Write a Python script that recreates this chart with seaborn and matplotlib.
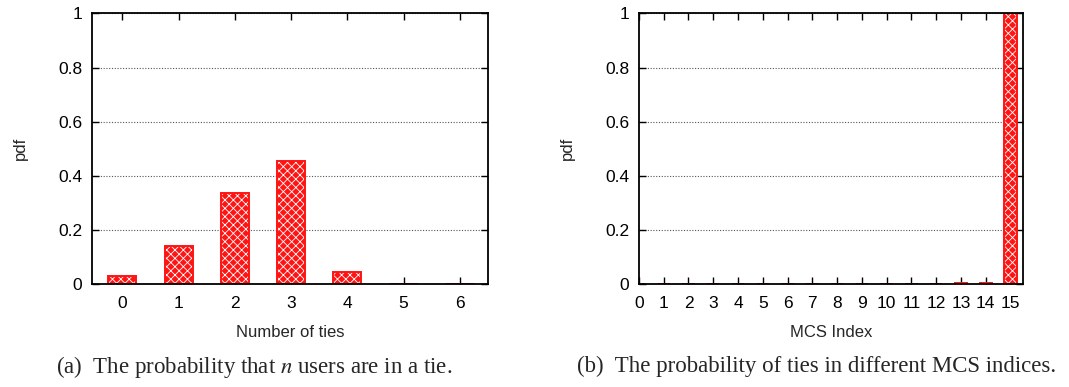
import matplotlib
matplotlib.use("Agg")
import matplotlib.pyplot as plt
import seaborn as sns
import pandas as pd
from matplotlib.patches import Rectangle
from matplotlib.ticker import FormatStrFormatter

# Probability that n users are in a tie
tie_counts = [0, 1, 2, 3, 4, 5, 6]
tie_pdf = [0.031, 0.139, 0.337, 0.456, 0.043, 0.0, 0.0]

# Probability of ties per MCS index
mcs_index = [0, 1, 2, 3, 4, 5, 6, 7, 8, 9, 10, 11, 12, 13, 14, 15]
mcs_pdf = [0.0, 0.0, 0.0, 0.0, 0.0, 0.0, 0.0, 0.0, 0.0, 0.0, 0.0, 0.0, 0.0,
           0.003, 0.003, 1.0]

y_ticks = [0, 0.2, 0.4, 0.6, 0.8, 1.0]

sns.set_theme(style="white")
plt.rcParams["font.family"] = ["Liberation Sans", "DejaVu Sans"]
plt.rcParams["mathtext.fontset"] = "stix"
plt.rcParams["hatch.linewidth"] = 0.6

RED = "#ff1414"

fig = plt.figure(figsize=(10.69, 3.87), dpi=100)
ax_a = fig.add_axes([0.0861, 0.2662, 0.3704, 0.699])
ax_b = fig.add_axes([0.5977, 0.2662, 0.3592, 0.699])


def draw_panel(ax, cats, vals, xlabel, xlim):
    df = pd.DataFrame({"x": cats, "pdf": vals})
    sns.barplot(data=df, x="x", y="pdf", ax=ax, color=RED, saturation=1,
                width=0.5, edgecolor="white", linewidth=0, hatch="xxxx",
                order=cats, zorder=2)
    # solid red outline around each hatched bar
    for p in list(ax.patches):
        ax.add_patch(Rectangle((p.get_x(), p.get_y()), p.get_width(),
                               p.get_height(), fill=False, edgecolor=RED,
                               linewidth=1.4, zorder=3))
    ax.set_xlim(*xlim)
    ax.set_ylim(0, 1)
    ax.set_yticks(y_ticks)
    ax.yaxis.set_major_formatter(FormatStrFormatter("%g"))
    ax.set_xticks(range(len(cats)))
    ax.set_xticklabels([str(c) for c in cats])
    ax.grid(False)
    ax.yaxis.grid(True, linestyle=(0, (1, 1.5)), color="#555555", linewidth=0.8)
    ax.set_axisbelow(True)
    for s in ax.spines.values():
        s.set_visible(True)
        s.set_color("black")
        s.set_linewidth(1.3)
        s.set_zorder(5)
    ax.tick_params(axis="both", direction="in", length=5, width=1,
                   top=True, right=True, bottom=True, left=True,
                   labelsize=12.5, colors="black")
    ax.tick_params(axis="x", pad=9)
    ax.tick_params(axis="y", pad=7)
    ax.set_xlabel(xlabel, fontsize=12, labelpad=10)
    ax.set_ylabel("pdf", fontsize=12, labelpad=22)


draw_panel(ax_a, tie_counts, tie_pdf, "Number of ties", (-0.54, 6.5))
draw_panel(ax_b, mcs_index, mcs_pdf, "MCS Index", (0.0, 15.5))

fig.text(0.238, 0.052, "(a)  The probability that $n$ users are in a tie.",
         ha="center", va="center", fontsize=16.5, family="Liberation Serif")
fig.text(0.764, 0.052, "(b)  The probability of ties in different MCS indices.",
         ha="center", va="center", fontsize=16.5, family="Liberation Serif")

fig.savefig("out.png", dpi=100)
